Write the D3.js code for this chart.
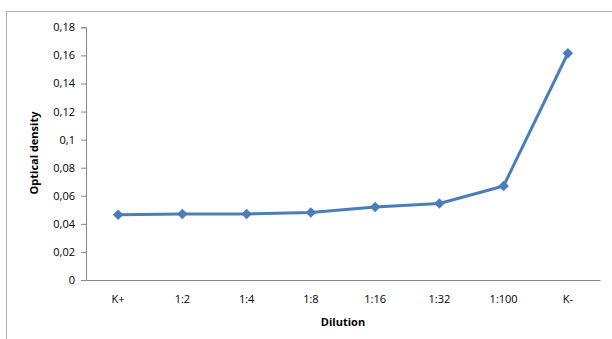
<!DOCTYPE html>
<html><head><meta charset="utf-8">
<script src="https://cdn.jsdelivr.net/npm/d3@7"></script>
<style>html,body{margin:0;padding:0;background:#fff;}svg{display:block;}</style>
</head><body><svg id="c" width="612" height="339"></svg>
<script>
const categories = ["K+","1:2","1:4","1:8","1:16","1:32","1:100","K-"];
const values = [0.0465,0.047,0.047,0.048,0.052,0.0545,0.067,0.1615];
const yTicks = [0,0.02,0.04,0.06,0.08,0.1,0.12,0.14,0.16,0.18];
const yTickLabels = ["0","0,02","0,04","0,06","0,08","0,1","0,12","0,14","0,16","0,18"];

(function(){
const svg = d3.select("#c");
const font = "'Open Sans', 'DejaVu Sans', sans-serif";
svg.append("rect").attr("x",6.5).attr("y",11.5).attr("width",620).attr("height",340)
  .attr("fill","#fff").attr("stroke","#b0b0b0").attr("stroke-width",1);

const pL=86, pR=600, pT=27.3, pB=280;
const x = d3.scaleBand().domain(categories).range([pL,pR]);
const y = d3.scaleLinear().domain([0,0.18]).range([pB,pT]);

// y axis
const ya = svg.append("g").attr("transform",`translate(${pL},0)`)
  .call(d3.axisLeft(y).tickValues(yTicks).tickFormat((d,i)=>yTickLabels[i]).tickSize(5).tickPadding(6));
ya.select(".domain").attr("stroke","#868686");
ya.selectAll(".tick line").attr("stroke","#868686");
ya.selectAll("text").attr("font-family",font).attr("font-size","11px").attr("fill","#000");

// x axis
const xa = svg.append("g").attr("transform",`translate(0,${pB})`)
  .call(d3.axisBottom(x).tickSize(0).tickPadding(15));
xa.select(".domain").attr("stroke","#868686");
xa.selectAll("text").attr("font-family",font).attr("font-size","11px").attr("fill","#000");

// line
const pts = categories.map((c,i)=>[x(c)+x.bandwidth()/2, y(values[i])]);
svg.append("path").attr("d",d3.line()(pts)).attr("fill","none")
  .attr("stroke","#4a7ebb").attr("stroke-width",3).attr("stroke-linejoin","round");
svg.selectAll(".m").data(pts).enter().append("path")
  .attr("transform",d=>`translate(${d[0]},${d[1]})`)
  .attr("d",d3.symbol(d3.symbolDiamond2,70)())
  .attr("fill","#4a7ebb");

// titles
svg.append("text").attr("x",343).attr("y",326).attr("text-anchor","middle")
  .attr("font-family",font).attr("font-size","11px").attr("font-weight","bold").text("Dilution");
svg.append("text").attr("transform","translate(38,153) rotate(-90)").attr("text-anchor","middle")
  .attr("font-family",font).attr("font-size","11px").attr("font-weight","bold").text("Optical density");
})();
</script></body></html>
